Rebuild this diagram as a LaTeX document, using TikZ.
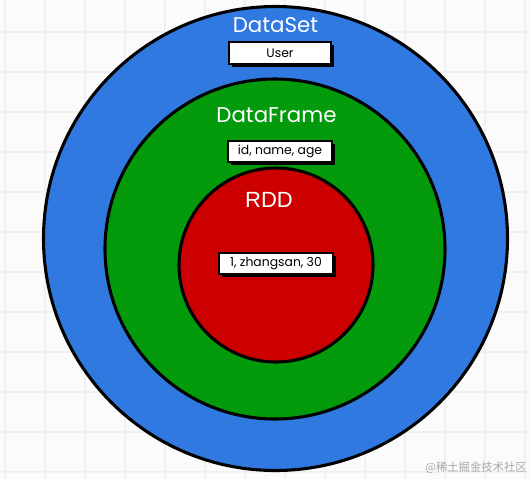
\documentclass[tikz,border=0pt]{standalone}
\usepackage{fontspec}
\setmainfont{Poppins}
\newfontfamily\arialfont{Liberation Sans}
\newfontfamily\cjk{Noto Sans CJK SC}
\definecolor{bgc}{HTML}{FBFBFB}
\definecolor{gridc}{HTML}{F0F0F0}
\definecolor{dsblue}{HTML}{2F79E0}
\definecolor{dfgreen}{HTML}{039A0C}
\definecolor{rddred}{HTML}{CC0000}
\definecolor{wmgray}{HTML}{A8A8A8}
\begin{document}
\begin{tikzpicture}[x=0.75pt,y=-0.75pt,
  ring/.style={draw=black,line width=2.3pt},
  title/.style={text=white,font=\fontsize{16}{18}\selectfont,inner sep=0pt},
  databox/.style={draw=black,fill=white,line width=0.9pt,inner sep=0pt,font=\fontsize{9.3}{11}\selectfont},
  shadow/.style={fill=black}]
\useasboundingbox (0,0) rectangle (530,479);
\fill[bgc] (0,0) rectangle (530,479);
\foreach \gx in {5,45,...,525} \draw[gridc,line width=0.8pt] (\gx,0) -- (\gx,479);
\foreach \gy in {32,72,...,472} \draw[gridc,line width=0.8pt] (0,\gy) -- (530,\gy);
% circles
\coordinate (cds) at (275.5,238.5);
\coordinate (cdf) at (275,249);
\coordinate (crdd) at (276,265);
\fill[dsblue] (cds) circle[radius=232];
\draw[ring] (cds) circle[radius=232];
\fill[dfgreen] (cdf) circle[radius=170];
\draw[ring] (cdf) circle[radius=170];
\fill[rddred] (crdd) circle[radius=97];
\draw[ring] (crdd) circle[radius=97];
% titles
\node[title] (tds) at (275.5,25) {DataSet};
\node[title] (tdf) at (276.5,115) {DataFrame};
\node[title,font=\arialfont\fontsize{16.5}{18}\selectfont] (trdd) at (269,200) {RDD};
% boxes with shadows
\fill[shadow] (232,45) rectangle (334,67);
\node[databox,minimum width=102*0.75pt,minimum height=22*0.75pt] (bds) at (280,53) {User};
\fill[shadow] (231,144) rectangle (335,165);
\node[databox,minimum width=104*0.75pt,minimum height=21*0.75pt] (bdf) at (280,151.5) {id, name, age};
\fill[shadow] (222,256) rectangle (336,277);
\node[databox,minimum width=114*0.75pt,minimum height=21*0.75pt] (brdd) at (276,263.5) {1, zhangsan, 30};
% watermark
\node[text=wmgray,font=\cjk\fontsize{8.5}{10}\selectfont,anchor=east,inner sep=0pt] (wm) at (527,468) {@稀土掘金技术社区};
\end{tikzpicture}
\end{document}
